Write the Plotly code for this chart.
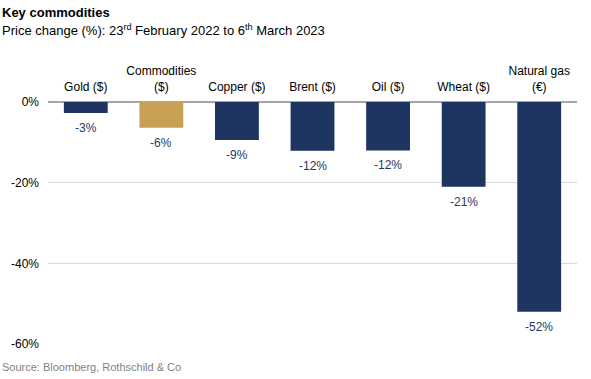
import plotly.graph_objects as go

categories = ["Gold ($)", "Commodities<br>($)", "Copper ($)", "Brent ($)", "Oil ($)", "Wheat ($)", "Natural gas<br>(€)"]
values = [-2.7, -6.4, -9.4, -12.1, -12.0, -21.0, -52.0]
labels = ["-3%", "-6%", "-9%", "-12%", "-12%", "-21%", "-52%"]
colors = ["#1d3560", "#c9a154", "#1d3560", "#1d3560", "#1d3560", "#1d3560", "#1d3560"]
y_ticks = [0, -20, -40, -60]
y_tick_text = ["0%", "-20%", "-40%", "-60%"]

fig = go.Figure(go.Bar(
    x=categories, y=values,
    marker=dict(color=colors, line=dict(width=0)),
    width=0.58, hoverinfo="skip",
))

value_annotations = [
    dict(x=c, y=v, text=t, xref="x", yref="y", showarrow=False,
         xanchor="center", yanchor="top", yshift=-6,
         font=dict(family="Liberation Sans, Arial", size=12, color="#1f3864"))
    for c, v, t in zip(categories, values, labels)
]

fig.update_layout(
    width=591, height=379,
    margin=dict(l=48, r=14, t=102, b=35),
    paper_bgcolor="white", plot_bgcolor="white",
    showlegend=False,
    font=dict(family="Liberation Sans, Arial", size=12, color="#000000"),
    xaxis=dict(side="top", showline=False, ticks="", showgrid=False, automargin=False,
               ticklabelstandoff=8, tickfont=dict(size=12, color="#000000")),
    yaxis=dict(range=[-60, 0], tickvals=y_ticks, ticktext=y_tick_text, automargin=False,
               showgrid=True, gridcolor="#d9d9d9", gridwidth=1,
               zeroline=True, zerolinecolor="#a6a6a6", zerolinewidth=1.5,
               ticklabelstandoff=8, tickfont=dict(size=12, color="#000000")),
    annotations=value_annotations + [
        dict(text="<b>Key commodities</b>", x=0, y=1, xref="paper", yref="paper",
             xanchor="left", yanchor="top", showarrow=False, xshift=-48, yshift=99,
             font=dict(size=13, color="#000000")),
        dict(text="Price change (%): 23<sup>rd</sup> February 2022 to 6<sup>th</sup> March 2023",
             x=0, y=1, xref="paper", yref="paper", xanchor="left", yanchor="top",
             showarrow=False, xshift=-48, yshift=82, font=dict(size=13, color="#000000")),
        dict(text="Source: Bloomberg, Rothschild & Co", x=0, y=0, xref="paper", yref="paper",
             xanchor="left", yanchor="top", showarrow=False, xshift=-48, yshift=-15,
             font=dict(size=11, color="#7f7f7f")),
    ],
)

fig.write_html("out.html", config={"displayModeBar": False})

with open("out.html", "r", encoding="utf-8") as f:
    html = f.read()
html = html.replace("<head>", "<head><style>html,body{margin:0;padding:0;overflow:hidden;}</style>", 1)
with open("out.html", "w", encoding="utf-8") as f:
    f.write(html)
